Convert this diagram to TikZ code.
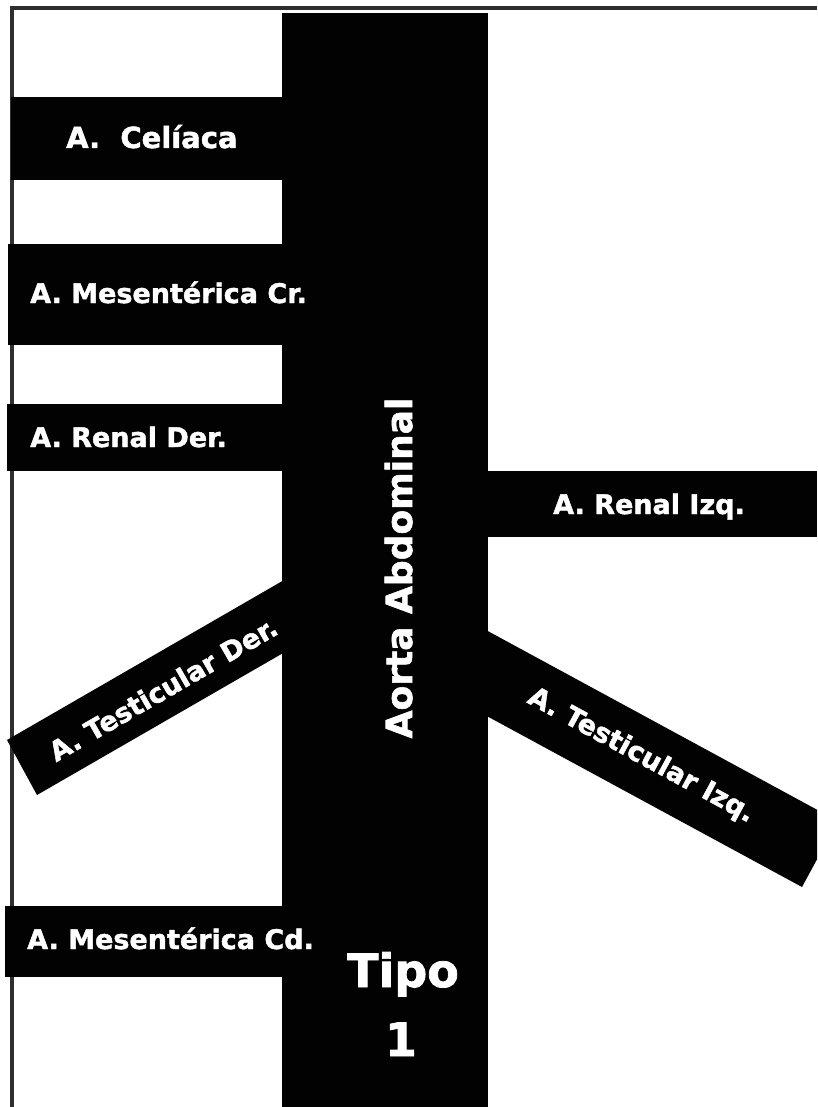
\documentclass[tikz,border=0pt]{standalone}
\usepackage{fontspec}
\setmainfont{DejaVu Sans}[BoldFeatures={FakeBold=1.6}]
\usetikzlibrary{positioning}
\usepackage{xcolor}
\definecolor{artblack}{HTML}{020202}
\definecolor{artwhite}{HTML}{FFFFFF}
\definecolor{framegray}{HTML}{2E2E2E}

\begin{document}
\begin{tikzpicture}[x=1pt, y=-1pt,
    artery/.style={fill=artblack},
    artlabel/.style={text=artwhite, inner sep=0pt,
      font=\bfseries\fontsize{27}{30}\selectfont}]
    \useasboundingbox (0,0) rectangle (817,1107);
    \clip (0,0) rectangle (817,1107);
    % marco
    \draw[framegray, line width=4pt] (11.5,1107) -- (11.5,8.5) -- (817,8.5);
    % aorta y ramas
    \fill[artery] (282,13) rectangle (488,1107);
    \fill[artery] (11,97) rectangle (330,180);
    \fill[artery] (8,244) rectangle (330,345);
    \fill[artery] (7,404) rectangle (330,471);
    \fill[artery] (440,471) rectangle (817,537);
    \fill[artery] (5,906) rectangle (330,977);
    \fill[artery] (7,740) -- (330,553.5) -- (330,626) -- (37,795) -- cycle;
    \fill[artery] (330,631) -- (802,887) -- (837.8,821) -- (330,545.4) -- cycle;
    % textos
    \node[artlabel, anchor=base west, font=\bfseries\fontsize{29}{32}\selectfont]
      (celiaca) at (66,148) {A.\ \ Celíaca};
    \node[artlabel, anchor=base west] (mesCr) at (30,303) {A. Mesentérica Cr.};
    \node[artlabel, anchor=base west] (renalDer) at (30,447) {A. Renal Der.};
    \node[artlabel, anchor=base west] (renalIzq) at (553,514) {A. Renal Izq.};
    \node[artlabel, anchor=base west] (mesCd) at (27,949) {A. Mesentérica Cd.};
    \node[artlabel, rotate=30] (testDer) at (163,689) {A. Testicular Der.};
    \node[artlabel, rotate=-28.5] (testIzq) at (641,756) {A. Testicular Izq.};
    \node[artlabel, anchor=base, rotate=90, font=\bfseries\fontsize{36}{40}\selectfont]
      (aorta) at (412,568) {Aorta Abdominal};
    \node[artlabel, anchor=base, font=\bfseries\fontsize{46}{50}\selectfont]
      (tipo) at (403,987) {Tipo};
    \node[artlabel, anchor=base, font=\bfseries\fontsize{46}{50}\selectfont]
      (tipoNum) at (401,1056) {1};
\end{tikzpicture}
\end{document}
